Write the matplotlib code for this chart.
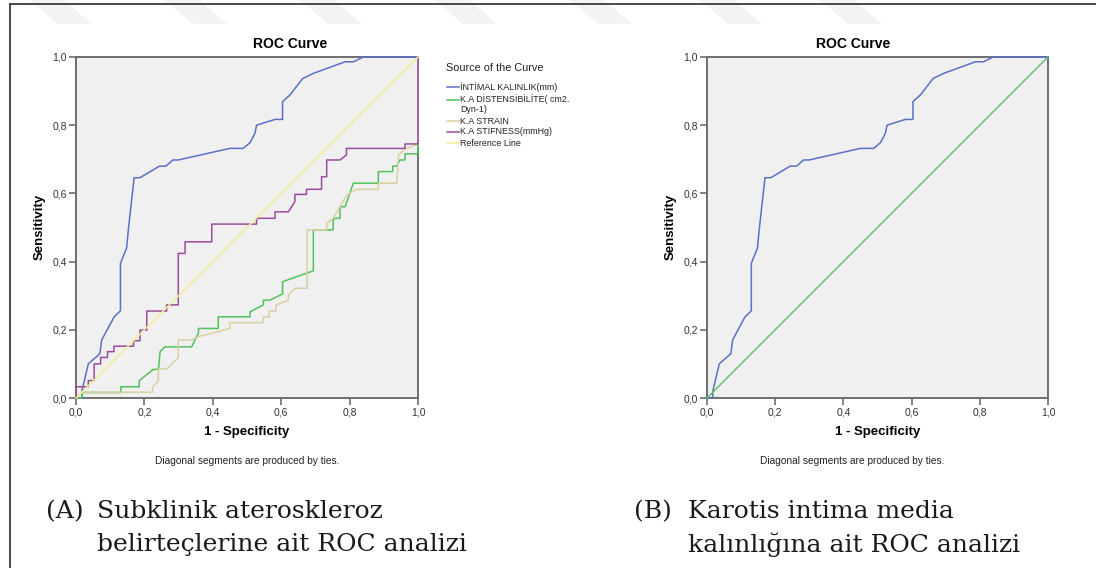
import matplotlib
matplotlib.use("Agg")
import matplotlib.pyplot as plt
from matplotlib.lines import Line2D
from matplotlib.patches import Polygon

# ROC coordinates (1 - specificity, sensitivity) for each marker
intimal_fpr = [0, 0.017, 0.017, 0.036, 0.070, 0.075, 0.111, 0.130, 0.130, 0.148, 0.153, 0.170, 0.187,
               0.244, 0.263, 0.283, 0.299, 0.450, 0.489, 0.509, 0.523, 0.528, 0.582, 0.604, 0.604,
               0.626, 0.663, 0.694, 0.787, 0.811, 0.840, 1.0]
intimal_tpr = [0, 0, 0.02, 0.10, 0.13, 0.17, 0.237, 0.256, 0.395, 0.44, 0.493, 0.646, 0.646,
               0.680, 0.680, 0.698, 0.698, 0.732, 0.732, 0.749, 0.776, 0.80, 0.817, 0.817, 0.869,
               0.889, 0.937, 0.952, 0.986, 0.986, 1.0, 1.0]

disten_fpr = [0, 0.017, 0.017, 0.131, 0.131, 0.185, 0.185, 0.226, 0.241, 0.246, 0.260, 0.338, 0.358,
              0.358, 0.416, 0.416, 0.509, 0.509, 0.548, 0.548, 0.567, 0.604, 0.604, 0.694, 0.694,
              0.752, 0.752, 0.757, 0.772, 0.772, 0.787, 0.811, 0.884, 0.884, 0.926, 0.926, 0.938,
              0.947, 0.962, 0.962, 1.0, 1.0]
disten_tpr = [0, 0, 0.016, 0.016, 0.033, 0.033, 0.051, 0.084, 0.084, 0.136, 0.150, 0.150, 0.190,
              0.204, 0.204, 0.238, 0.238, 0.253, 0.273, 0.287, 0.287, 0.305, 0.341, 0.373, 0.493,
              0.493, 0.522, 0.527, 0.527, 0.561, 0.561, 0.630, 0.630, 0.664, 0.664, 0.680, 0.680,
              0.698, 0.698, 0.716, 0.716, 1.0]

strain_fpr = [0, 0.017, 0.224, 0.224, 0.241, 0.241, 0.265, 0.299, 0.299, 0.338, 0.358, 0.450, 0.450,
              0.548, 0.548, 0.565, 0.565, 0.585, 0.585, 0.621, 0.621, 0.635, 0.645, 0.676, 0.676,
              0.733, 0.733, 0.752, 0.772, 0.791, 0.821, 0.884, 0.884, 0.938, 0.943, 0.962, 1.0, 1.0]
strain_tpr = [0, 0.017, 0.017, 0.033, 0.051, 0.085, 0.085, 0.119, 0.170, 0.170, 0.180, 0.204, 0.221,
              0.221, 0.238, 0.238, 0.255, 0.255, 0.273, 0.287, 0.302, 0.317, 0.322, 0.322, 0.493,
              0.493, 0.512, 0.527, 0.561, 0.595, 0.612, 0.612, 0.630, 0.630, 0.712, 0.730, 0.745, 1.0]

stiff_fpr = [0, 0, 0.036, 0.036, 0.053, 0.053, 0.072, 0.072, 0.092, 0.092, 0.111, 0.111, 0.168, 0.168,
             0.187, 0.187, 0.207, 0.207, 0.265, 0.265, 0.299, 0.299, 0.319, 0.319, 0.397, 0.397,
             0.528, 0.528, 0.582, 0.582, 0.621, 0.640, 0.640, 0.674, 0.674, 0.718, 0.718, 0.733,
             0.733, 0.772, 0.791, 0.791, 0.962, 0.962, 1.0, 1.0]
stiff_tpr = [0, 0.033, 0.033, 0.051, 0.051, 0.10, 0.10, 0.119, 0.119, 0.136, 0.136, 0.152, 0.152, 0.168,
             0.168, 0.199, 0.199, 0.255, 0.255, 0.273, 0.273, 0.424, 0.424, 0.458, 0.458, 0.510,
             0.510, 0.527, 0.527, 0.546, 0.546, 0.576, 0.597, 0.597, 0.612, 0.612, 0.649, 0.649,
             0.698, 0.698, 0.713, 0.732, 0.732, 0.745, 0.745, 1.0]

ref_line = [0.0, 1.0]

legend_labels = ["İNTİMAL KALINLIK(mm)", "K.A DİSTENSİBİLİTE( cm2.\nDyn-1)", "K.A STRAIN",
                 "K.A STIFNESS(mmHg)", "Reference Line"]
tick_values = [0.0, 0.2, 0.4, 0.6, 0.8, 1.0]
tick_labels = ["0,0", "0,2", "0,4", "0,6", "0,8", "1,0"]

C_BLUE = "#5b70c6"
C_GREEN = "#52c25c"
C_TAN = "#d9d0a2"
C_MAG = "#9b4c9f"
C_YEL = "#f2ee94"
C_REF_B = "#62c46e"

W, H = 1096, 568
plt.rcParams["font.family"] = ["Liberation Sans", "DejaVu Sans"]
fig = plt.figure(figsize=(W / 100, H / 100), dpi=100)
fig.patch.set_facecolor("white")


def fx(px):
    return px / W


def fy(py):
    return 1 - py / H


# faint watermark bands along the top edge
for x0 in [30, 165, 300, 435, 570, 700, 820]:
    band = Polygon([(fx(x0), fy(0)), (fx(x0 + 34), fy(0)), (fx(x0 + 62), fy(24)), (fx(x0 + 28), fy(24))],
                   closed=True, transform=fig.transFigure, facecolor="#f3f3f3", edgecolor="none", zorder=0)
    fig.add_artist(band)

# page frame lines
fig.add_artist(Line2D([fx(10), fx(10)], [fy(4), fy(568)], transform=fig.transFigure, color="#3a3a3a", lw=1.3))
fig.add_artist(Line2D([fx(10), fx(1096)], [fy(4), fy(4)], transform=fig.transFigure, color="#3a3a3a", lw=1.3))


def style_axes(ax):
    ax.set_facecolor("#f0f0f0")
    ax.set_xlim(0, 1)
    ax.set_ylim(0, 1)
    for s in ax.spines.values():
        s.set_color("#6e6e6e")
        s.set_linewidth(1.4)
    ax.set_xticks(tick_values)
    ax.set_xticklabels(tick_labels)
    ax.set_yticks(tick_values)
    ax.set_yticklabels(tick_labels)
    ax.tick_params(direction="out", length=5, width=1.2, color="#6e6e6e", labelsize=7.5,
                   labelcolor="#333333", pad=1.5)


def add_texts(x_left, x_right, title_cx, note_cx):
    cx = (x_left + x_right) / 2
    fig.text(fx(title_cx), fy(44), "ROC Curve", ha="center", va="center", fontsize=10, fontweight="bold")
    fig.text(fx(cx), fy(432), "1 - Specificity", ha="center", va="center", fontsize=9.5, fontweight="bold")
    fig.text(fx(x_left - 36), fy(227), "Sensitivity", ha="center", va="center", rotation=90,
             fontsize=9.5, fontweight="bold")
    fig.text(fx(note_cx), fy(461), "Diagonal segments are produced by ties.", ha="center", va="center",
             fontsize=7.3, color="#222222")


def curve(ax, xs, ys, color, z=4):
    ax.plot(xs, ys, color=color, lw=1.1, zorder=z, clip_on=False)


# left panel: all markers
axL = fig.add_axes([fx(76), fy(398), fx(418) - fx(76), fy(57) - fy(398)])
style_axes(axL)
curve(axL, intimal_fpr, intimal_tpr, C_BLUE)
curve(axL, disten_fpr, disten_tpr, C_GREEN)
curve(axL, strain_fpr, strain_tpr, C_TAN)
curve(axL, stiff_fpr, stiff_tpr, C_MAG)
curve(axL, ref_line, ref_line, C_YEL, z=5)
add_texts(76, 418, 290, 247)

# legend beside the left panel
fig.text(fx(446), fy(68), "Source of the Curve", ha="left", va="center", fontsize=7.8, color="#222222")
legend_rows = [(87, 87, C_BLUE), (99, 100, C_GREEN), (121, 121, C_TAN), (132, 132, C_MAG), (143, 143, C_YEL)]
for (ty, ly, col), lab in zip(legend_rows, legend_labels):
    fig.add_artist(Line2D([fx(447), fx(459)], [fy(ly), fy(ly)], transform=fig.transFigure, color=col, lw=1.1))
    if "\n" in lab:
        fig.text(fx(460), fy(ty - 5), lab, ha="left", va="top", fontsize=6.4, color="#222222", linespacing=1.1)
    else:
        fig.text(fx(460), fy(ty), lab, ha="left", va="center", fontsize=6.4, color="#222222")

# right panel: intima-media thickness only
axR = fig.add_axes([fx(707), fy(398), fx(1048) - fx(707), fy(57) - fy(398)])
style_axes(axR)
curve(axR, intimal_fpr, intimal_tpr, C_BLUE)
curve(axR, ref_line, ref_line, C_REF_B)
add_texts(707, 1048, 853, 852)

# panel captions
cap_kw = dict(family=["DejaVu Serif"], fontsize=18, color="#1a1a1a", va="center", ha="left")
fig.text(fx(46), fy(512), "(A)", **cap_kw)
fig.text(fx(97), fy(512), "Subklinik ateroskleroz", **cap_kw)
fig.text(fx(97), fy(545), "belirteçlerine ait ROC analizi", **cap_kw)
fig.text(fx(634), fy(512), "(B)", **cap_kw)
fig.text(fx(688), fy(512), "Karotis intima media", **cap_kw)
fig.text(fx(688), fy(545), "kalınlığına ait ROC analizi", **cap_kw)

fig.savefig("out.png", dpi=100, facecolor="white")
